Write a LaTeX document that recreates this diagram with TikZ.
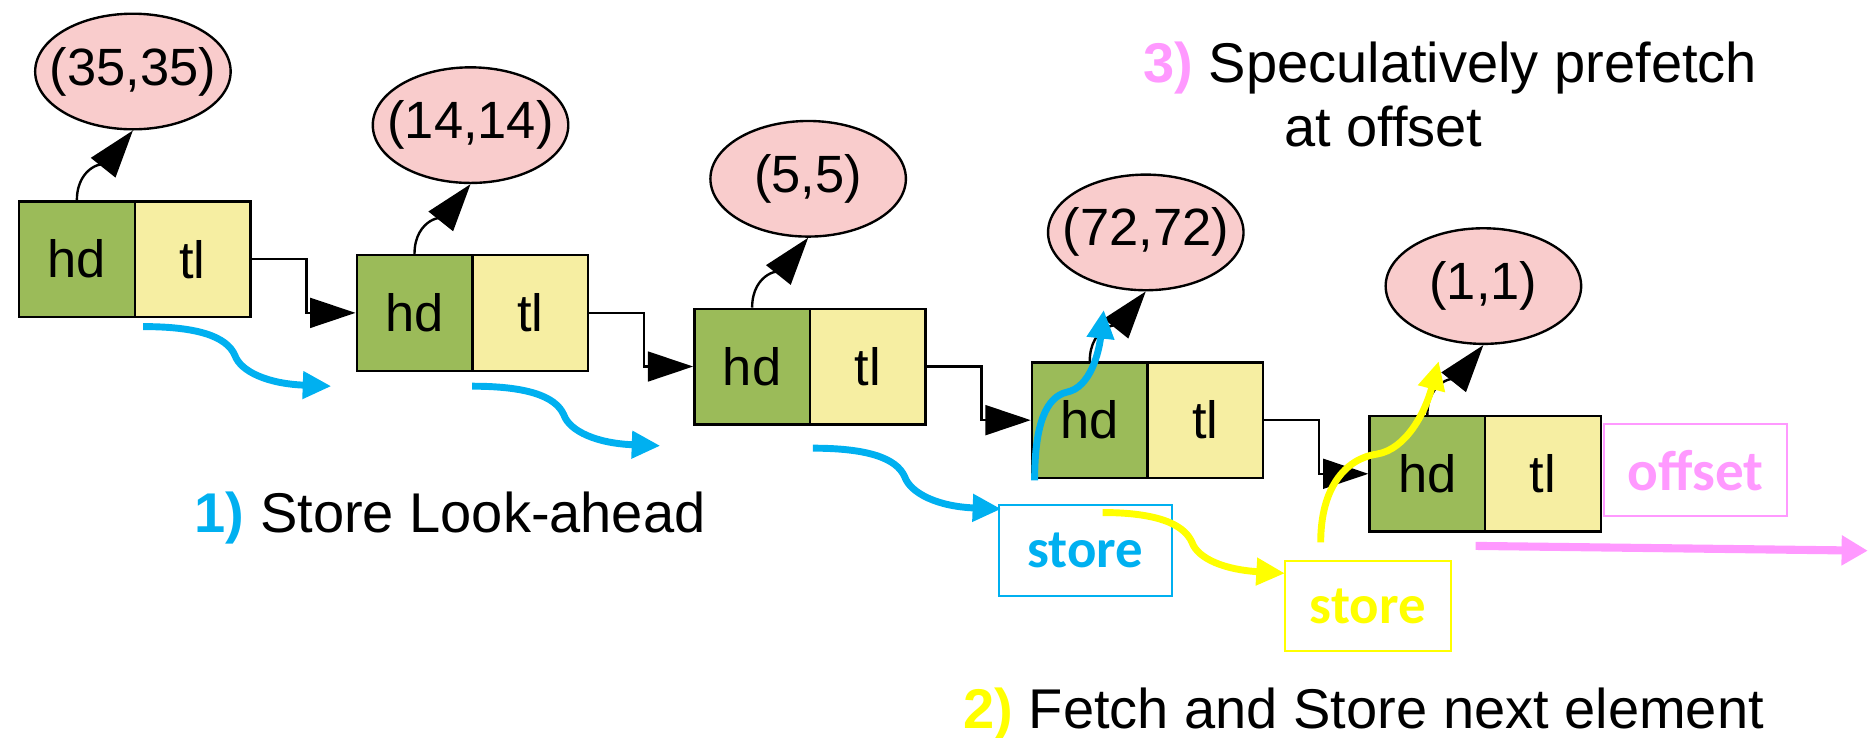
\documentclass[tikz,border=0pt]{standalone}
\usepackage{fontspec}
\setmainfont{Liberation Sans}
\newfontfamily\calib{Carlito}
\usetikzlibrary{shapes.geometric,arrows.meta,calc}
\definecolor{hdgreen}{HTML}{9BBB59}
\definecolor{tlyellow}{HTML}{F6EEA2}
\definecolor{elpink}{HTML}{F9CCCC}
\definecolor{cblue}{HTML}{00B0F0}
\definecolor{cyellow}{HTML}{FFFF00}
\definecolor{cpink}{HTML}{FF99FF}
\newcommand{\zw}[1]{\makebox[0pt]{#1}}
\begin{document}
\begin{tikzpicture}[x=0.5pt,y=-0.5pt,
 cell/.style={draw=black,line width=1pt,minimum width=48.5pt,minimum height=48.5pt,inner sep=0pt,anchor=north west,font=\fontsize{22}{26}\selectfont},
 hdc/.style={cell,fill=hdgreen},
 tlc/.style={cell,fill=tlyellow},
 val/.style={ellipse,draw=black,line width=1pt,fill=elpink,minimum width=82pt,minimum height=48.5pt,inner sep=0pt,font=\fontsize{22}{26}\selectfont},
 ptr/.style={line width=1pt,-{Triangle[length=20pt,width=13pt]}},
 link/.style={line width=1pt,-{Triangle[length=19pt,width=12.5pt]}},
 fat/.style={line width=2.9pt,-{Triangle[length=12pt,width=11pt]}},
 pinkfat/.style={line width=3.4pt,-{Triangle[length=11pt,width=12pt]}},
 lab/.style={inner sep=0pt,font=\fontsize{23.5}{27}\selectfont},
 sbox/.style={draw,line width=0.8pt,inner sep=0pt,font=\calib\bfseries\fontsize{23}{27}\selectfont}
]
\useasboundingbox (0,0) rectangle (1568,619);

% list cells
\node[hdc] (h1) at (15,168) {hd};
\node[tlc] (t1) at (112,168) {tl};
\node[hdc] (h2) at (298.25,213) {hd};
\node[tlc] (t2) at (395.25,213) {tl};
\node[hdc] (h3) at (581.5,258) {hd};
\node[tlc] (t3) at (678.5,258) {tl};
\node[hdc] (h4) at (864.75,303) {hd};
\node[tlc] (t4) at (961.75,303) {tl};
\node[hdc] (h5) at (1148,348) {hd};
\node[tlc] (t5) at (1245,348) {tl};

% values
\node[val] (e1) at (111.5,60) {\zw{(35,35)}};
\node[val] (e2) at (394.75,105) {\zw{(14,14)}};
\node[val] (e3) at (678,150) {\zw{(5,5)}};
\node[val] (e4) at (961.25,195) {\zw{(72,72)}};
\node[val] (e5) at (1244.5,240) {\zw{(1,1)}};

% pointers to values
\foreach \i in {1,...,5}{
  \draw[ptr] (h\i.north) .. controls +(0,-30) and +(-20,25) .. (e\i.south);
}
% links
\foreach \i/\j in {1/2,2/3,3/4,4/5}{
  \draw[link] (t\i.east) -- ++(46,0) |- (h\j.west);
}

% store / offset boxes
\node[sbox,draw=cblue,text=cblue,minimum width=72.5pt,minimum height=38pt] (sb) at (910.5,462) {store};
\node[sbox,draw=cyellow,text=cyellow,minimum width=69.5pt,minimum height=37.5pt] (sy) at (1147.5,508.5) {store};
\node[sbox,draw=cpink,text=cpink,minimum width=76.5pt,minimum height=38.5pt,font=\calib\bfseries\fontsize{24}{28}\selectfont] (so) at (1422.5,394.5) {offset};

% coordinates of colored arrows
\coordinate (b1s) at (120,274); \coordinate (b1e) at (278,324);
\coordinate (b2s) at (396,324); \coordinate (b2e) at (554,374);
\coordinate (b3s) at (682,376); \coordinate (b3e) at (840,427);
\coordinate (y1s) at (925,430); \coordinate (y1e) at (1078,481);
\coordinate (bus) at (868,403); \coordinate (bue) at (926,260);
\coordinate (yus) at (1108,455); \coordinate (yue) at (1207,303);
\coordinate (ps) at (1238,458); \coordinate (pe) at (1567,462);

\foreach \s/\e in {b1s/b1e,b2s/b2e,b3s/b3e}{
  \draw[fat,cblue] (\s) .. controls +(45,0) and +(-7,-16) .. ($(\s)+(77,24)$) .. controls +(5,14) and +(-53,-2) .. (\e);
}
\draw[fat,cyellow] (y1s) .. controls +(44,0) and +(-7,-16) .. ($(y1s)+(75,25)$) .. controls +(5,14) and +(-50,-3) .. (y1e);

\draw[fat,cblue] (bus) .. controls +(0,-48) and +(-17,4) .. ($(bus)+(27,-74)$) .. controls +(20,-4) and +(-4,35) .. (bue);
\draw[fat,cyellow] (yus) .. controls +(0,-45) and +(-27,4) .. ($(yus)+(47,-74)$) .. controls +(25,-4) and +(-11,42) .. (yue);
\draw[pinkfat,cpink] (ps) -- (pe);

% labels
\node[lab,anchor=base west] (l1) at (163,447) {\textcolor{cblue}{\textbf{1)}} Store Look-ahead};
\node[lab,anchor=base west] (l2) at (808,611) {\textcolor{cyellow}{\textbf{2)}} Fetch and Store next element};
\node[lab,anchor=base west,align=left] (l3) at (959,123) {\textcolor{cpink}{\textbf{3)}} Speculatively prefetch\\\hspace*{59pt}at offset};
\end{tikzpicture}
\end{document}
